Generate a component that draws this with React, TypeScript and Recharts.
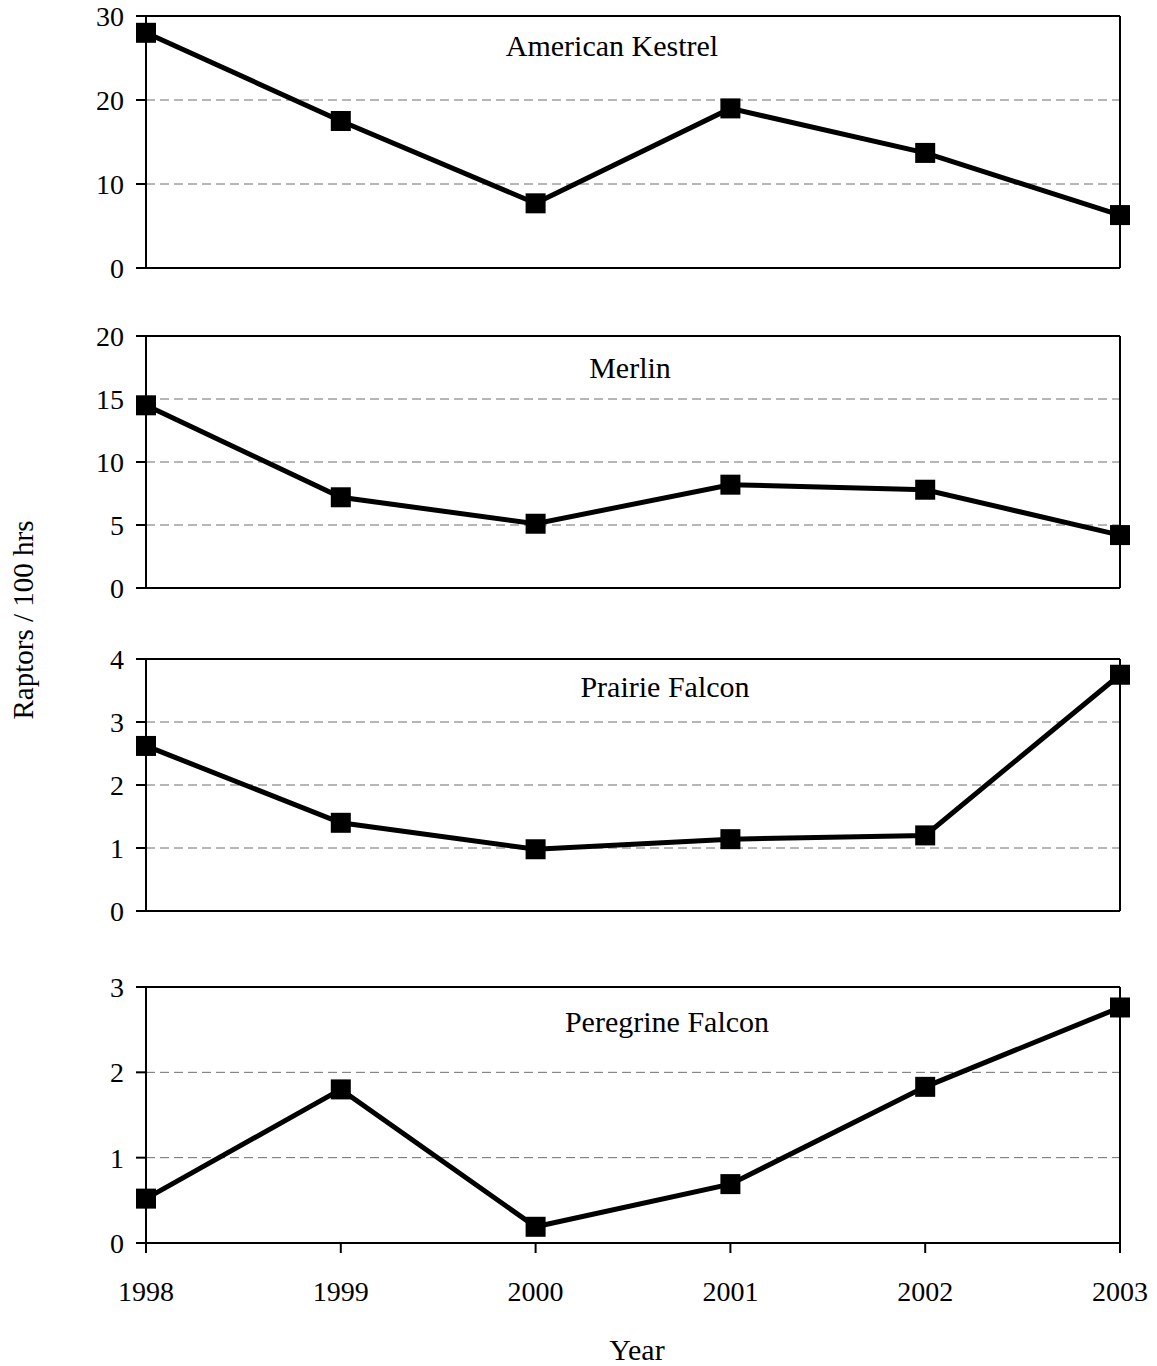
import {
  LineChart, Line, XAxis, YAxis, CartesianGrid, ReferenceLine,
} from 'recharts'

const years = ['1998', '1999', '2000', '2001', '2002', '2003']
const kestrel = [28, 17.5, 7.7, 19, 13.7, 6.3]
const merlin = [14.5, 7.2, 5.1, 8.2, 7.8, 4.2]
const prairie = [2.62, 1.4, 0.98, 1.14, 1.2, 3.75]
const peregrine = [0.52, 1.8, 0.19, 0.69, 1.83, 2.76]

const kestrelTicks = [0, 10, 20, 30]
const merlinTicks = [0, 5, 10, 15, 20]
const prairieTicks = [0, 1, 2, 3, 4]
const peregrineTicks = [0, 1, 2, 3]

const FONT = '"Liberation Serif", "Times New Roman", serif'
const W = 1157

interface PanelDef {
  title: string
  values: number[]
  ticks: number[]
  top: number      // plot area top (px)
  bottom: number   // plot area bottom (px)
  titleX: number
  titleY: number   // baseline
  showYears: boolean
}

const panels: PanelDef[] = [
  { title: 'American Kestrel', values: kestrel, ticks: kestrelTicks, top: 16, bottom: 268, titleX: 612, titleY: 56, showYears: false },
  { title: 'Merlin', values: merlin, ticks: merlinTicks, top: 336, bottom: 588, titleX: 630, titleY: 378, showYears: false },
  { title: 'Prairie Falcon', values: prairie, ticks: prairieTicks, top: 659, bottom: 911, titleX: 665, titleY: 697, showYears: false },
  { title: 'Peregrine Falcon', values: peregrine, ticks: peregrineTicks, top: 987, bottom: 1243, titleX: 667, titleY: 1032, showYears: true },
]

const Square = (props: any) => {
  const { cx, cy, index } = props
  if (cx == null || cy == null) return null
  return <rect key={index} x={cx - 10} y={cy - 10} width={20} height={20} fill="#000" />
}

const Panel = ({ p }: { p: PanelDef }) => {
  const data = years.map((y, i) => ({ year: y, v: p.values[i] }))
  const marginTop = 16
  const xAxisH = p.showYears ? 80 : 20
  const h = marginTop + (p.bottom - p.top) + xAxisH
  const max = p.ticks[p.ticks.length - 1]
  const tickStyle = { fontSize: 28, fill: '#000', fontFamily: FONT }

  return (
    <div style={{ position: 'absolute', left: 0, top: p.top - marginTop }}>
      <LineChart width={W} height={h} data={data} margin={{ top: marginTop, right: 37, left: 0, bottom: 0 }}>
        <CartesianGrid vertical={false} stroke="#6e6e6e" strokeDasharray="9 5" horizontalValues={p.ticks} />
        <XAxis
          dataKey="year"
          height={xAxisH}
          axisLine={{ stroke: '#000', strokeWidth: 2 }}
          tickLine={{ stroke: '#000', strokeWidth: 2 }}
          tickSize={10}
          tickMargin={28}
          tick={p.showYears ? tickStyle : false}
          tickFormatter={p.showYears ? undefined : () => ''}
          interval={0}
        />
        <YAxis
          domain={[0, max]}
          ticks={p.ticks}
          width={146}
          axisLine={{ stroke: '#000', strokeWidth: 2 }}
          tickLine={{ stroke: '#000', strokeWidth: 2 }}
          tickSize={10}
          tickMargin={12}
          tick={tickStyle}
          interval={0}
        />
        <ReferenceLine y={max} stroke="#000" strokeWidth={2} />
        <ReferenceLine x="2003" stroke="#000" strokeWidth={2} />
        <Line
          dataKey="v"
          stroke="#000"
          strokeWidth={5}
          dot={<Square />}
          activeDot={false}
          isAnimationActive={false}
        />
      </LineChart>
    </div>
  )
}

const App = () => {
  return (
    <div style={{ position: 'absolute', left: 0, top: 0, width: W, height: 1366, background: '#fff', fontFamily: FONT }}>
      {panels.map(p => <Panel key={p.title} p={p} />)}
      <svg width={W} height={1366} style={{ position: 'absolute', left: 0, top: 0, pointerEvents: 'none' }}>
        {panels.map(p => (
          <text key={p.title} x={p.titleX} y={p.titleY} textAnchor="middle" fontSize={30} fontFamily={FONT} fill="#000">
            {p.title}
          </text>
        ))}
        <text x={637} y={1360} textAnchor="middle" fontSize={30} fontFamily={FONT} fill="#000">Year</text>
        <text
          x={33}
          y={620}
          textAnchor="middle"
          fontSize={29}
          fontFamily={FONT}
          fill="#000"
          transform="rotate(-90 33 620)"
        >
          Raptors / 100 hrs
        </text>
      </svg>
    </div>
  )
}

export default App
